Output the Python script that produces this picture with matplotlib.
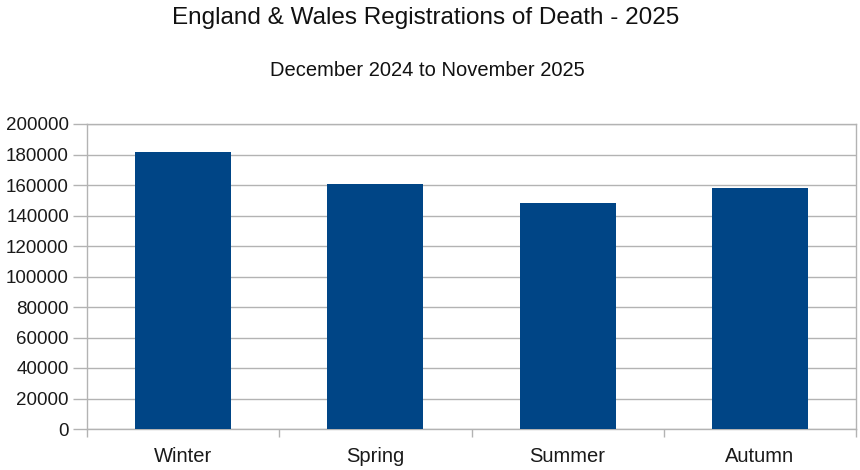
import matplotlib
matplotlib.use("Agg")
import matplotlib.pyplot as plt
import numpy as np

categories = ["Winter", "Spring", "Summer", "Autumn"]
deaths = [181500, 160500, 148000, 157800]
yticks = [0, 20000, 40000, 60000, 80000, 100000, 120000, 140000, 160000, 180000, 200000]

plt.rcParams['font.family'] = ['Liberation Sans', 'DejaVu Sans']

fig = plt.figure(figsize=(8.6, 4.7), dpi=100)
ax = fig.add_axes([87/860, 1-429/470, (856-87)/860, (429-124)/470])

x = np.arange(len(categories))
ax.bar(x, deaths, width=0.5, color="#004586", zorder=3)

ax.set_xlim(-0.5, len(categories)-0.5)
ax.set_ylim(0, 200000)
ax.set_yticks(yticks)
ax.set_yticklabels([str(v) for v in yticks])
ax.set_xticks(x)
ax.set_xticklabels(categories)
ax.set_xticks(np.arange(-0.5, len(categories), 1.0), minor=True)

ax.grid(axis='y', color="#b3b3b3", linewidth=1.0, zorder=0)
for s in ['left', 'bottom', 'right', 'top']:
    ax.spines[s].set_color("#b3b3b3")
    ax.spines[s].set_linewidth(1.0)

ax.tick_params(axis='y', length=10, width=1, color="#b3b3b3", pad=3,
               labelsize=13.5, labelcolor="#1a1a1a")
ax.tick_params(axis='x', which='major', length=0, pad=13,
               labelsize=14.5, labelcolor="#1a1a1a")
ax.tick_params(axis='x', which='minor', length=6, width=1, color="#b3b3b3")

fig.text(0.495, 0.962, "England & Wales Registrations of Death - 2025",
         ha='center', va='center', fontsize=17.5, color="#111111")
fig.text(0.497, 0.850, "December 2024 to November 2025",
         ha='center', va='center', fontsize=14.5, color="#111111")

fig.savefig("out.png", dpi=100)
